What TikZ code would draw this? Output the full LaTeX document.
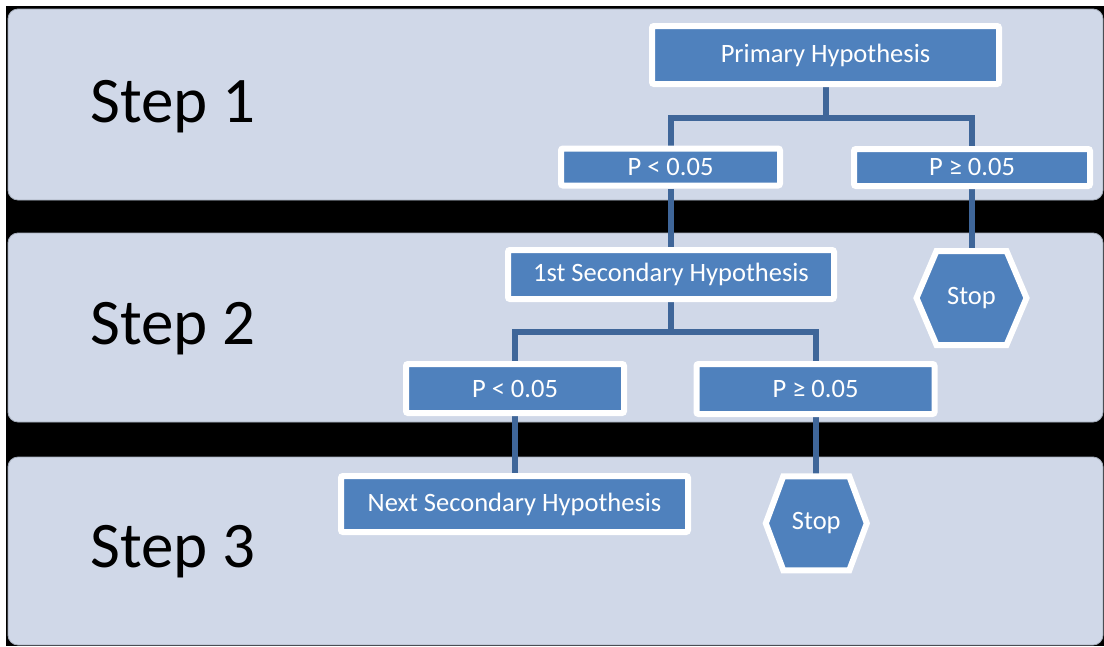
\documentclass[tikz,border=0pt]{standalone}
\usepackage{fontspec}
\setmainfont{Carlito}
\usetikzlibrary{calc}
\definecolor{bandc}{HTML}{D0D8E8}
\definecolor{boxc}{HTML}{4F81BD}
\definecolor{connc}{HTML}{3F6699}
\definecolor{bandedge}{HTML}{A4ACBA}
\pgfdeclarelayer{bg}
\pgfdeclarelayer{mid}
\pgfsetlayers{bg,mid,main}
\begin{document}
\begin{tikzpicture}[x=1pt,y=-1pt,
 band/.style={fill=bandc, draw=bandedge, line width=0.8pt, rounded corners=10pt},
 hbox/.style={rectangle, fill=boxc, draw=white, line width=6pt, rounded corners=2pt, text=white, font=\fontsize{26.5}{30}\selectfont, inner sep=0pt},
 steplabel/.style={font=\fontsize{65}{72}\selectfont, text=black, anchor=base west, inner sep=0pt},
 conn/.style={draw=connc, line width=6pt},
 hexa/.style={fill=boxc, draw=white, line width=6pt, line join=miter},
 stoptext/.style={text=white, font=\fontsize{26.5}{30}\selectfont, inner sep=0pt}]
\useasboundingbox (0,0) rectangle (1104,646);
\begin{pgfonlayer}{bg}
\fill[black] (6,6) rectangle (1104,646);
\draw[band] (8,9) rectangle (1103,200);
\draw[band] (8,233) rectangle (1103,422);
\draw[band] (8,457) rectangle (1103,645);
\end{pgfonlayer}

% step labels
\node[steplabel] (s1) at (90,122) {Step 1};
\node[steplabel] (s2) at (90,344.5) {Step 2};
\node[steplabel] (s3) at (90,567) {Step 3};

% boxes
\node[hbox, minimum width=347, minimum height=58] (prim) at (825.5,55) {Primary Hypothesis};
\node[hbox, minimum width=219, minimum height=37] (p1L) at (670.5,167) {P < 0.05};
\node[hbox, minimum width=236, minimum height=37] (p1R) at (972,167.5) {P ≥ 0.05};
\node[hbox, minimum width=326, minimum height=49] (sec1) at (671,274.5) {1st Secondary Hypothesis};
\node[hbox, minimum width=218, minimum height=49] (p2L) at (515,388.5) {P < 0.05};
\node[hbox, minimum width=238, minimum height=50] (p2R) at (815.5,389) {P ≥ 0.05};
\node[hbox, minimum width=347, minimum height=56] (next) at (514.5,504) {Next Secondary Hypothesis};

% stop hexagons
\draw[hexa] (971.5,298) ++(-55,0) -- ++(20,-47) -- ++(70,0) -- ++(20,47) -- ++(-20,47) -- ++(-70,0) -- cycle;
\node[stoptext, minimum height=94] (stopR) at (971.5,298) {Stop};
\draw[hexa] (816.3,523.3) ++(-50.5,0) -- ++(17.5,-47) -- ++(66,0) -- ++(17.5,47) -- ++(-17.5,47) -- ++(-66,0) -- cycle;
\node[stoptext, minimum height=94] (stopB) at (816.3,523.3) {Stop};

% connectors
\coordinate (j1) at (825.5,118);
\coordinate (j2) at (671,332);
\begin{pgfonlayer}{mid}
\draw[conn] (prim.south) -- (j1);
\draw[conn] (p1L.north) |- (j1) -| (p1R.north);
\draw[conn] (p1L.south) -- (p1L.south |- sec1.north);
\draw[conn] (p1R.south) -- (p1R.south |- stopR.north);
\draw[conn] (sec1.south) -- (j2);
\draw[conn] (p2L.north) |- (j2) -| (p2R.north);
\draw[conn] (p2L.south) -- (p2L.south |- next.north);
\draw[conn] (p2R.south) -- (p2R.south |- stopB.north);
\end{pgfonlayer}
\end{tikzpicture}
\end{document}
